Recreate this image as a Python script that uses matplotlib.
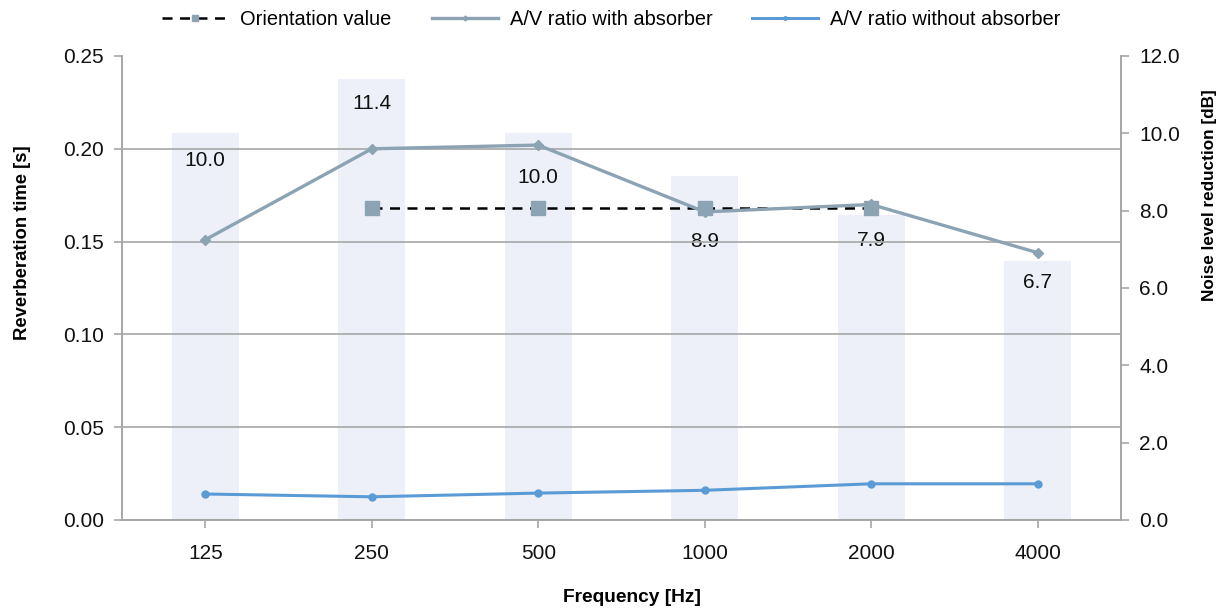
import matplotlib
matplotlib.use("Agg")
import matplotlib.pyplot as plt
from matplotlib import font_manager
import numpy as np

# Frequency bands and measured values
frequencies = ["125", "250", "500", "1000", "2000", "4000"]
noise_reduction_db = [10.0, 11.4, 10.0, 8.9, 7.9, 6.7]
rt_with_absorber = [0.151, 0.200, 0.202, 0.166, 0.170, 0.144]
rt_without_absorber = [0.014, 0.0125, 0.0145, 0.016, 0.0195, 0.0195]
orientation_value = [np.nan, 0.168, 0.168, 0.168, 0.168, np.nan]

# vertical placement of the dB labels below each bar top (dB)
label_drop = [0.69, 0.62, 1.13, 1.71, 0.66, 0.57]

names = {f.name for f in font_manager.fontManager.ttflist}
family = "Liberation Sans Narrow" if "Liberation Sans Narrow" in names else "Liberation Sans"
plt.rcParams["font.family"] = [family, "DejaVu Sans"]

grey = "#A6A6A6"
bar_color = "#EDF0F8"
with_color = "#8BA3B3"
without_color = "#5B9BD5"
tick_size = 15

fig = plt.figure(figsize=(12.23, 6.14), dpi=100)
ax1 = fig.add_axes([0.0998, 0.1531, 0.8168, 0.7557])
ax2 = ax1.twinx()
ax1.set_zorder(ax2.get_zorder() + 1)
ax1.patch.set_visible(False)

x = np.arange(len(frequencies))

# Noise level reduction bars on the right axis
ax2.bar(x, noise_reduction_db, width=0.4, color=bar_color, zorder=1)
for xi, v, d in zip(x, noise_reduction_db, label_drop):
    ax2.text(xi, v - d, f"{v:.1f}", ha="center", va="center", fontsize=tick_size, color="#111111")
ax2.set_ylim(0, 12)
ax2.set_yticks(np.arange(0, 12.1, 2))
ax2.set_yticklabels([f"{t:.1f}" for t in np.arange(0, 12.1, 2)])
ax2.set_ylabel("Noise level reduction [dB]", fontsize=12.3, fontweight="bold")
ax2.yaxis.set_label_coords(1.081, 0.700)

# Reverberation time lines on the left axis
ax1.plot(x, orientation_value, color="black", linestyle=(0, (4, 3)), lw=1.8,
         marker="s", markersize=10, markerfacecolor=with_color, markeredgecolor=with_color,
         label="Orientation value", zorder=3)
ax1.plot(x, rt_with_absorber, color=with_color, lw=2.4, marker="D", markersize=5,
         label="A/V ratio with absorber", zorder=4)
ax1.plot(x, rt_without_absorber, color=without_color, lw=2.2, marker="o", markersize=5,
         label="A/V ratio without absorber", zorder=4)

ax1.set_xlim(-0.5, len(frequencies) - 0.5)
ax1.set_ylim(0, 0.25)
ax1.set_yticks(np.arange(0, 0.251, 0.05))
ax1.set_yticklabels([f"{t:.2f}" for t in np.arange(0, 0.251, 0.05)])
ax1.set_xticks(x)
ax1.set_xticklabels(frequencies)
ax1.yaxis.grid(True, color=grey, lw=1.2)
ax1.set_axisbelow(False)
ax1.set_ylabel("Reverberation time [s]", fontsize=13.3, fontweight="bold")
ax1.yaxis.set_label_coords(-0.091, 0.597)
ax1.set_xlabel("Frequency [Hz]", fontsize=13.8, fontweight="bold")
ax1.xaxis.set_label_coords(0.51, -0.149)

for ax in (ax1, ax2):
    ax.tick_params(axis="both", labelsize=tick_size, colors="#111111", length=6, width=1.2, pad=7)
    ax.tick_params(axis="both", color=grey)
    for side in ("left", "right", "bottom"):
        ax.spines[side].set_color(grey)
        ax.spines[side].set_linewidth(1.2)
    ax.spines["top"].set_visible(False)
ax1.tick_params(axis="x", pad=11)

# Hide the 0.25 gridline at the top edge
grid_lines = ax1.yaxis.get_gridlines()
grid_lines[-1].set_visible(False)

handles, labels = ax1.get_legend_handles_labels()
fig.legend(handles, labels, loc="center", bbox_to_anchor=(0.5, 0.969), ncol=3,
           frameon=False, fontsize=14.4, handlelength=3.3, handletextpad=0.6,
           columnspacing=2.0, markerscale=0.5)

fig.savefig("out.png", dpi=100)
